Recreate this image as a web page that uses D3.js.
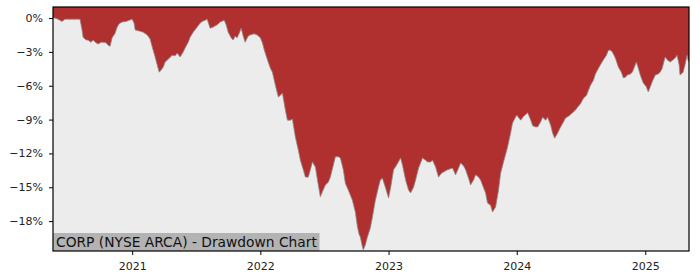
<!DOCTYPE html>
<html>
<head>
<meta charset="utf-8">
<script src="https://cdn.jsdelivr.net/npm/d3@7"></script>
<style>
  body { margin: 0; background: #fff; }
  svg { display: block; font-family: "DejaVu Sans", sans-serif; }
</style>
</head>
<body>
<svg id="chart" width="700" height="280"></svg>
<script>
// Dates as decimal years
const dates = [
  2020.384, 2020.399, 2020.423, 2020.454, 2020.477, 2020.493, 2020.532, 2020.563, 2020.594, 2020.610,
  2020.618, 2020.641, 2020.657, 2020.680, 2020.696, 2020.719, 2020.735, 2020.758, 2020.774, 2020.797,
  2020.813, 2020.828, 2020.844, 2020.867, 2020.883, 2020.899, 2020.922, 2020.953, 2020.977, 2021.000,
  2021.016, 2021.023, 2021.055, 2021.086, 2021.117, 2021.140, 2021.156, 2021.179, 2021.195, 2021.211,
  2021.226, 2021.242, 2021.257, 2021.281, 2021.312, 2021.335, 2021.351, 2021.374, 2021.398, 2021.413,
  2021.437, 2021.452, 2021.476, 2021.507, 2021.530, 2021.546, 2021.569, 2021.585, 2021.608, 2021.632,
  2021.663, 2021.686, 2021.718, 2021.733, 2021.749, 2021.772, 2021.788, 2021.803, 2021.819, 2021.835,
  2021.850, 2021.866, 2021.881, 2021.905, 2021.920, 2021.952, 2021.975, 2022.000, 2022.016, 2022.031,
  2022.055, 2022.078, 2022.094, 2022.117, 2022.140, 2022.156, 2022.172, 2022.195, 2022.211, 2022.234,
  2022.250, 2022.273, 2022.296, 2022.312, 2022.335, 2022.351, 2022.374, 2022.390, 2022.406, 2022.429,
  2022.452, 2022.468, 2022.484, 2022.507, 2022.530, 2022.546, 2022.569, 2022.585, 2022.608, 2022.624,
  2022.647, 2022.663, 2022.686, 2022.718, 2022.741, 2022.757, 2022.772, 2022.780, 2022.796, 2022.803,
  2022.819, 2022.835, 2022.858, 2022.874, 2022.897, 2022.920, 2022.936, 2022.952, 2022.975, 2023.000,
  2023.016, 2023.039, 2023.062, 2023.094, 2023.109, 2023.133, 2023.156, 2023.172, 2023.195, 2023.211,
  2023.234, 2023.265, 2023.289, 2023.304, 2023.328, 2023.343, 2023.367, 2023.390, 2023.413, 2023.429,
  2023.460, 2023.499, 2023.523, 2023.546, 2023.562, 2023.585, 2023.601, 2023.624, 2023.640, 2023.663,
  2023.679, 2023.702, 2023.718, 2023.741, 2023.757, 2023.772, 2023.796, 2023.811, 2023.835, 2023.858,
  2023.874, 2023.897, 2023.928, 2023.952, 2023.967, 2023.983, 2024.000, 2024.016, 2024.031, 2024.054,
  2024.085, 2024.109, 2024.124, 2024.147, 2024.163, 2024.186, 2024.202, 2024.225, 2024.240, 2024.264,
  2024.279, 2024.295, 2024.318, 2024.341, 2024.364, 2024.380, 2024.403, 2024.434, 2024.457, 2024.473,
  2024.496, 2024.519, 2024.543, 2024.558, 2024.574, 2024.597, 2024.612, 2024.636, 2024.651, 2024.674,
  2024.698, 2024.713, 2024.729, 2024.744, 2024.767, 2024.791, 2024.814, 2024.829, 2024.845, 2024.860,
  2024.884, 2024.899, 2024.915, 2024.930, 2024.946, 2024.961, 2024.984, 2025.008, 2025.023, 2025.039,
  2025.054, 2025.078, 2025.101, 2025.116, 2025.132, 2025.155, 2025.171, 2025.194, 2025.217, 2025.233,
  2025.248, 2025.264, 2025.271, 2025.287, 2025.295, 2025.310, 2025.326, 2025.333, 2025.341
];

// Drawdown in percent
const drawdown = [
  0.0, 0.0, -0.1, -0.3, -0.1, -0.1, -0.1, -0.1, -0.1, -1.05,
  -1.7, -1.95, -1.95, -2.15, -1.95, -2.2, -2.3, -2.15, -2.15, -2.2,
  -2.4, -2.5, -1.75, -1.35, -0.8, -0.5, -0.35, -0.3, -0.2, -0.1,
  -0.5, -1.05, -1.15, -1.25, -1.5, -1.85, -2.55, -3.45, -4.15, -4.8,
  -4.6, -4.35, -3.9, -3.65, -3.3, -3.35, -3.1, -3.45, -3.0, -2.65,
  -2.15, -1.7, -1.25, -0.8, -0.45, -0.3, -0.2, -0.1, -0.9, -0.8,
  -0.6, -0.35, -0.2, -0.6, -1.25, -1.75, -1.95, -1.6, -1.75, -1.35,
  -0.9, -1.6, -2.15, -1.6, -1.5, -1.4, -1.5, -1.75, -2.2, -2.85,
  -3.7, -4.45, -4.8, -5.95, -7.0, -6.85, -6.65, -8.15, -9.05, -9.05,
  -8.95, -10.55, -11.7, -12.6, -13.45, -14.1, -14.1, -13.45, -12.75, -13.2,
  -14.8, -15.85, -15.4, -14.8, -14.55, -14.1, -13.05, -12.3, -12.3, -12.4,
  -13.45, -14.65, -15.25, -16.15, -17.2, -18.5, -19.25, -19.4, -20.3, -20.55,
  -20.1, -19.4, -18.6, -17.65, -16.15, -15.05, -14.35, -14.2, -15.0, -15.95,
  -15.05, -13.45, -13.05, -12.4, -13.05, -14.35, -15.25, -15.5, -15.0, -14.35,
  -13.3, -12.4, -12.6, -12.75, -12.75, -12.6, -13.2, -14.1, -13.75, -13.65,
  -13.45, -13.3, -13.9, -13.3, -12.85, -13.1, -13.45, -14.2, -14.8, -14.35,
  -13.9, -14.1, -14.35, -15.05, -15.5, -16.4, -16.6, -17.2, -16.75, -15.25,
  -13.75, -12.75, -11.45, -10.2, -9.3, -8.95, -8.6, -8.85, -9.05, -8.7,
  -8.4, -9.05, -9.55, -9.65, -9.65, -9.2, -8.8, -9.05, -8.8, -9.5,
  -10.2, -10.65, -10.2, -9.65, -9.2, -8.85, -8.7, -8.4, -8.15, -7.9,
  -7.6, -7.1, -6.85, -6.4, -5.95, -5.5, -4.95, -4.45, -4.15, -3.7,
  -3.3, -2.85, -2.85, -3.0, -3.55, -4.35, -4.8, -5.3, -5.25, -5.05,
  -4.95, -4.8, -4.35, -3.9, -4.45, -5.05, -5.75, -6.1, -6.55, -6.1,
  -5.65, -5.05, -4.95, -4.8, -4.45, -3.45, -3.7, -3.9, -3.7, -3.55,
  -3.3, -4.15, -5.05, -4.9, -4.8, -4.15, -3.3, -3.7, -3.9
];

const yTicks = [0, -3, -6, -9, -12, -15, -18];
const xTickYears = [2021, 2022, 2023, 2024, 2025];
const label = 'CORP (NYSE ARCA) - Drawdown Chart';

const width = 700;
const height = 280;
const margin = { top: 7, right: 11, bottom: 29, left: 53 };
const plotW = width - margin.left - margin.right;
const plotH = height - margin.top - margin.bottom;

// decimal year -> Date
const toDate = (yr) => {
  const y0 = Math.floor(yr);
  const start = new Date(y0, 0, 1).getTime();
  const end = new Date(y0 + 1, 0, 1).getTime();
  return new Date(start + (yr - y0) * (end - start));
};

const data = dates.map((d, i) => ({ date: toDate(d), value: drawdown[i] }));

const x = d3.scaleTime()
  .domain([toDate(2020.384), toDate(2025.341)])
  .range([0, plotW]);

const y = d3.scaleLinear()
  .domain([-20.65, 0.98])
  .range([plotH, 0]);

const svg = d3.select('#chart');
const g = svg.append('g')
  .attr('transform', `translate(${margin.left},${margin.top})`);

g.append('rect')
  .attr('width', plotW)
  .attr('height', plotH)
  .attr('fill', '#ececec');

// red fill from the top of the plot down to the drawdown line
const area = d3.area()
  .x(d => x(d.date))
  .y0(0)
  .y1(d => y(d.value));

g.append('path')
  .datum(data)
  .attr('d', area)
  .attr('fill', '#b03030');

const line = d3.line()
  .x(d => x(d.date))
  .y(d => y(d.value));

g.append('path')
  .datum(data)
  .attr('d', line)
  .attr('fill', 'none')
  .attr('stroke', '#8a8a8a')
  .attr('stroke-width', 0.8);

// label box at the bottom left
const lbl = g.append('g');
const lblText = lbl.append('text')
  .attr('x', 3)
  .attr('y', plotH - 4)
  .attr('font-size', 13.8)
  .attr('fill', '#111')
  .text(label);
const bb = lblText.node().getBBox();
lbl.insert('rect', 'text')
  .attr('x', 0)
  .attr('y', plotH - 18)
  .attr('width', bb.width + 5)
  .attr('height', 18)
  .attr('fill', '#b3b3b3');

// axes
const fmt = v => (v < 0 ? '\u2212' : '') + Math.abs(v) + '%';

const yAxis = d3.axisLeft(y)
  .tickValues(yTicks)
  .tickFormat(fmt)
  .tickSize(4)
  .tickPadding(6);

const xAxis = d3.axisBottom(x)
  .tickValues(xTickYears.map(yr => new Date(yr, 0, 1)))
  .tickFormat(d3.timeFormat('%Y'))
  .tickSize(4)
  .tickPadding(7);

const yG = g.append('g').call(yAxis);
const xG = g.append('g')
  .attr('transform', `translate(0,${plotH})`)
  .call(xAxis);

[yG, xG].forEach(ax => {
  ax.select('.domain').remove();
  ax.selectAll('text')
    .attr('font-size', 11)
    .attr('fill', '#222')
    .attr('font-family', '"DejaVu Sans", sans-serif');
  ax.selectAll('line').attr('stroke', '#000');
});

// frame
g.append('rect')
  .attr('width', plotW)
  .attr('height', plotH)
  .attr('fill', 'none')
  .attr('stroke', '#000')
  .attr('stroke-width', 1.2);
</script>
</body>
</html>
